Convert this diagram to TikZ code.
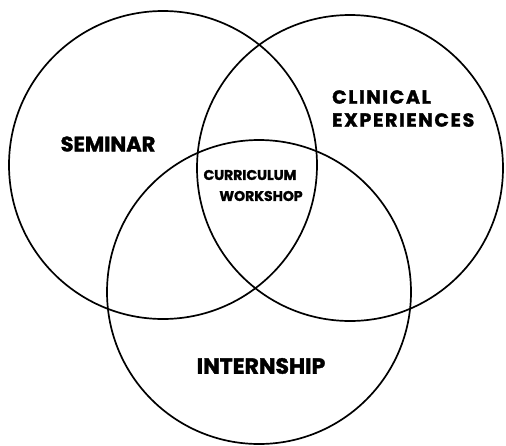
\documentclass[tikz,border=0pt]{standalone}
\usepackage{fontspec}
\setmainfont{Poppins}[BoldFeatures={FakeBold=1.6}]
\newfontfamily\wide{Poppins}[LetterSpace=9,BoldFeatures={FakeBold=1.6}]
\tikzset{ring/.style={line width=1.7pt},
  lbl/.style={font=\bfseries\fontsize{21}{24}\selectfont, inner sep=0pt}}

\begin{document}
\begin{tikzpicture}[x=1pt,y=-1pt]
  \useasboundingbox (0,0) rectangle (506,445);
  % the three rings
  \draw [ring] (163,165) circle (154);
  \draw [ring] (350,168) circle (153);
  \draw [ring] (259,292) circle (152);

  \node [lbl] (sem) at (108,144) {SEMINAR};
  \node [lbl, font=\wide\bfseries\fontsize{19}{23}\selectfont, align=left, anchor=north west] (clin) at (332,90) {CLINICAL\\EXPERIENCES};
  \node [lbl, font=\bfseries\fontsize{14}{16}\selectfont] (cur) at (250,175) {CURRICULUM};
  \node [lbl, font=\bfseries\fontsize{14}{16}\selectfont] (work) at (261,196) {WORKSHOP};
  \node [lbl, font=\bfseries\fontsize{22}{24}\selectfont] (int) at (261,366) {INTERNSHIP};
\end{tikzpicture}
\end{document}
